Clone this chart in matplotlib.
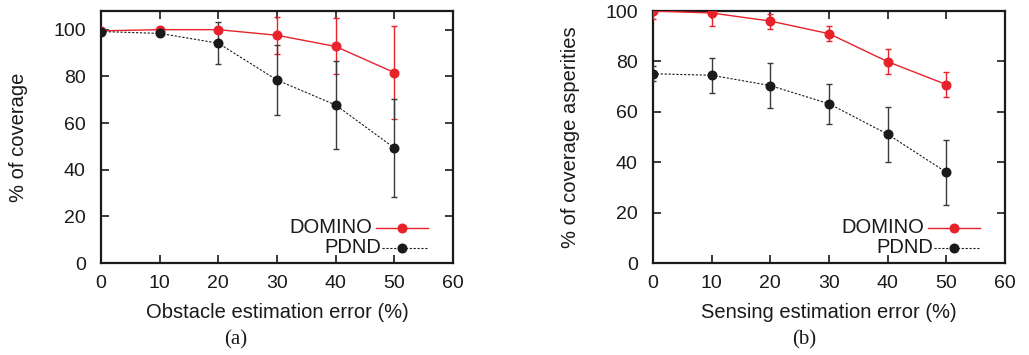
import matplotlib
matplotlib.use("Agg")
import matplotlib.pyplot as plt

x_err = [0, 10, 20, 30, 40, 50]

# Panel (a)
a_domino = [99.5, 100, 100, 97.6, 92.8, 81.6]
a_domino_err = [1, 1, 1, 8, 12, 20]
a_pdnd = [99.2, 98.4, 94.2, 78.4, 67.7, 49.3]
a_pdnd_err = [1, 1, 9, 15, 19, 21]

# Panel (b)
b_domino = [100, 99.2, 96, 91, 79.9, 70.8]
b_domino_err = [3, 5, 3, 3, 5, 5]
b_pdnd = [75.1, 74.5, 70.4, 63.2, 51.1, 36]
b_pdnd_err = [3, 7, 9, 8, 11, 13]

xticks = [0, 10, 20, 30, 40, 50, 60]
yticks = [0, 20, 40, 60, 80, 100]
series_names = ['DOMINO', 'PDND']

plt.rcParams['font.family'] = ['Liberation Sans', 'DejaVu Sans']
RED = '#e8222a'
BLK = '#1a1a1a'
TXT = '#1a1a1a'
FS = 14.5

fig = plt.figure(figsize=(10.29, 3.55), dpi=100)
W, H = 1029, 355
axA = fig.add_axes([101 / W, 1 - 263 / H, 352 / W, 252 / H])
axB = fig.add_axes([653 / W, 1 - 263 / H, 352 / W, 252 / H])

PDND_LS = (0, (2, 1.5))

def draw(ax, dom, dom_e, pd, pd_e, ymax, xlabel, ylabel, cap, cap_x):
    ax.errorbar(x_err, dom, yerr=dom_e, color=RED, marker='o', ms=6.2, lw=1.0,
                capsize=2.5, elinewidth=1.0, zorder=3)
    ax.errorbar(x_err, pd, yerr=pd_e, color=BLK, marker='o', ms=6.2, lw=0.8,
                ls=PDND_LS, capsize=2.5, elinewidth=1.0, ecolor='#3a3a3a',
                zorder=3)
    ax.set_xlim(0, 60)
    ax.set_ylim(0, ymax)
    ax.set_xticks(xticks)
    ax.set_yticks(yticks)
    ax.tick_params(direction='in', length=6, width=1.2, top=True, right=True,
                   labelsize=14, colors=TXT)
    ax.tick_params(axis='x', pad=9)
    ax.tick_params(axis='y', pad=11)
    for s in ax.spines.values():
        s.set_linewidth(1.6)
        s.set_color(TXT)
    ax.set_xlabel(xlabel, fontsize=FS, color=TXT, va='center')
    ax.set_ylabel(ylabel, fontsize=FS, color=TXT, va='center')
    ax.xaxis.set_label_coords(0.5, -0.198)
    ax.yaxis.set_label_coords(-0.234, 0.5)
    # gnuplot-style key (text then sample line with marker)
    tr = ax.transAxes
    ys = [0.139, 0.060]
    txt_right = [0.770, 0.795]
    line_start = [0.781, 0.797]
    styles = [dict(color=RED, lw=1.0, ls='-'), dict(color=BLK, lw=0.8, ls=PDND_LS)]
    for name, y, tr_x, ls_x, st in zip(series_names, ys, txt_right, line_start, styles):
        ax.text(tr_x, y, name, transform=tr, ha='right', va='center',
                fontsize=FS, color=TXT)
        ax.plot([ls_x, 0.929], [y, y], transform=tr, clip_on=False, **st)
        ax.plot([0.855], [y], transform=tr, clip_on=False, marker='o', ms=6.2,
                color=st['color'], ls='none')
    fig.text(cap_x / W, 1 - 340 / H, cap, ha='center', va='center',
             fontsize=15, family='Liberation Serif', color=TXT)

draw(axA, a_domino, a_domino_err, a_pdnd, a_pdnd_err, 108,
     'Obstacle estimation error (%)', '% of coverage', '(a)', 236)
draw(axB, b_domino, b_domino_err, b_pdnd, b_pdnd_err, 100,
     'Sensing estimation error (%)', '% of coverage asperities', '(b)', 804)

fig.savefig('out.png', dpi=100)
